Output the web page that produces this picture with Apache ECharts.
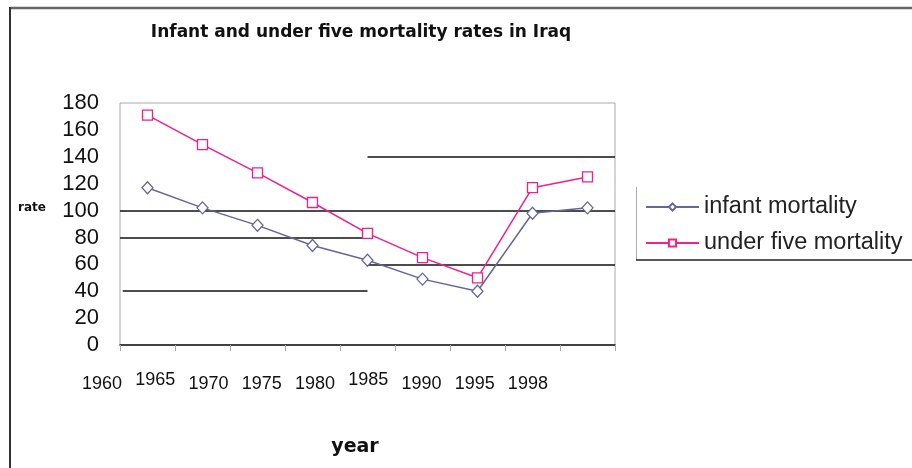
<!DOCTYPE html>
<html><head><meta charset="utf-8">
<script src="https://cdn.jsdelivr.net/npm/echarts@6/dist/echarts.min.js"></script>
<style>html,body{margin:0;padding:0;background:#fff}#c{width:912px;height:468px}</style>
</head><body><div id="c"></div>
<script>
// ---- data ----
const categories = ['1960','1965','1970','1975','1980','1985','1990','1995','1998'];
const tickLabels = ['1960','1965','1970','1975','1980','1985','1990','1995','1998'];
const raisedLabels = ['1965','1985'];
const infantMortality = [117, 102, 89, 74, 63, 49, 40, 98, 102];
const underFiveMortality = [171, 149, 128, 106, 83, 65, 50, 117, 125];
const yMin = 0, yMax = 180, yInterval = 20;
// partial horizontal rules: [value, fromBand, toBand]
const rules = [[140, 4.5, 9], [100, 0, 9], [80, 0, 4.5], [60, 4.5, 9], [40, 0.05, 4.5]];

const SANS = '"Liberation Sans", Arial, sans-serif';
const BOLD = '"DejaVu Sans", Verdana, sans-serif';
const chart = echarts.init(document.getElementById('c'), null, {renderer: 'canvas'});

const option = {
  animation: false,
  backgroundColor: '#fff',
  title: {
    text: 'Infant and under five mortality rates in Iraq',
    left: 356, top: 19, textAlign: 'center',
    textStyle: {fontFamily: BOLD, fontWeight: 'bold', fontSize: 17, color: '#111'}
  },
  grid: [
    {left: 120, width: 495, top: 103, height: 242, show: true, borderColor: '#aaa', borderWidth: 1, backgroundColor: 'transparent'},
    {left: 75.5, width: 479, top: 103, height: 242, show: false}
  ],
  legend: {
    orient: 'vertical', left: 640, top: 190, itemWidth: 53, itemHeight: 9, itemGap: 12,
    textStyle: {fontFamily: SANS, fontSize: 23.5, color: '#222'},
    data: ['infant mortality', 'under five mortality']
  },
  xAxis: [
    {type: 'category', gridIndex: 0, data: categories, boundaryGap: true,
     axisLine: {lineStyle: {color: '#111', width: 1.5}},
     axisTick: {show: true, length: 6, lineStyle: {color: '#aaa'}},
     axisLabel: {show: false}, splitLine: {show: false}},
    {type: 'value', gridIndex: 0, min: 0, max: categories.length, show: false},
    {type: 'category', gridIndex: 1, boundaryGap: true,
     data: tickLabels.map(t => raisedLabels.includes(t)
        ? {value: t, textStyle: {padding: [0, 0, 0, 0]}}
        : {value: t, textStyle: {padding: [4, 0, 0, 0]}}),
     axisLine: {show: false}, axisTick: {show: false},
     axisLabel: {margin: 26, interval: 0, fontFamily: SANS, fontSize: 18, color: '#111'}}
  ],
  yAxis: [
    {type: 'value', gridIndex: 0, min: yMin, max: yMax, interval: yInterval,
     axisLine: {show: false}, axisTick: {show: false},
     axisLabel: {margin: 21, fontFamily: SANS, fontSize: 22, color: '#111'},
     splitLine: {show: false}},
    {type: 'value', gridIndex: 1, min: yMin, max: yMax, show: false}
  ],
  series: [
    {name: 'rules', type: 'line', xAxisIndex: 1, yAxisIndex: 0, data: [], silent: true,
     markLine: {silent: true, symbol: 'none', label: {show: false},
       lineStyle: {color: '#111', width: 1.5, type: 'solid'},
       emphasis: {disabled: true},
       data: rules.map(r => [{coord: [r[1], r[0]]}, {coord: [r[2], r[0]]}])}},
    {name: 'infant mortality', type: 'line', xAxisIndex: 0, yAxisIndex: 0, data: infantMortality,
     symbol: 'diamond', symbolSize: [11, 12], showAllSymbol: true, z: 5,
     lineStyle: {color: '#66669a', width: 1.5},
     itemStyle: {color: '#fff', borderColor: '#66669a', borderWidth: 1.3}},
    {name: 'under five mortality', type: 'line', xAxisIndex: 0, yAxisIndex: 0, data: underFiveMortality,
     symbol: 'rect', symbolSize: 10, showAllSymbol: true, z: 5,
     lineStyle: {color: '#f0208c', width: 1.5},
     itemStyle: {color: '#fff', borderColor: '#f0208c', borderWidth: 1.3}}
  ],
  graphic: [
    {type: 'line', shape: {x1: 10, y1: 8, x2: 912, y2: 8}, style: {stroke: '#666', lineWidth: 2.5}},
    {type: 'line', shape: {x1: 10, y1: 7, x2: 10, y2: 468}, style: {stroke: '#333', lineWidth: 2}},
    {type: 'line', shape: {x1: 636.5, y1: 187, x2: 636.5, y2: 260}, style: {stroke: '#aaa', lineWidth: 1}},
    {type: 'line', shape: {x1: 636, y1: 260, x2: 912, y2: 260}, style: {stroke: '#222', lineWidth: 1.5}},
    {type: 'text', x: 32, y: 208, style: {text: 'rate', font: 'bold 12px ' + BOLD, fill: '#111', align: 'center', verticalAlign: 'middle'}},
    {type: 'text', x: 355, y: 447, style: {text: 'year', font: 'bold 19px ' + BOLD, fill: '#111', align: 'center', verticalAlign: 'middle'}}
  ]
};
chart.setOption(option);
</script></body></html>
